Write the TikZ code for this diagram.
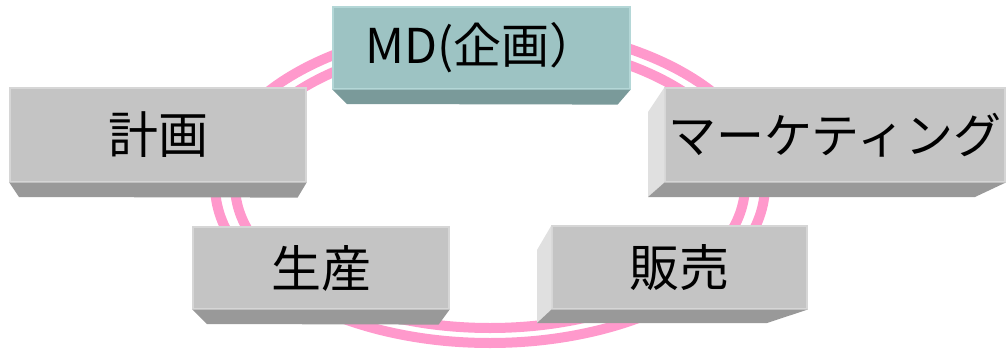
\documentclass[tikz,border=0pt]{standalone}
\usepackage{fontspec}
\newfontfamily\jpfont{Noto Sans CJK JP}
\definecolor{ringpink}{RGB}{255,153,204}
\definecolor{faceg}{RGB}{196,196,196}
\definecolor{bottomg}{RGB}{153,153,153}
\definecolor{sideg}{RGB}{224,224,224}
\definecolor{edgeg}{RGB}{214,214,214}
\definecolor{facet}{RGB}{157,195,195}
\definecolor{bottomt}{RGB}{122,154,154}
\definecolor{edget}{RGB}{180,215,215}
\tikzset{
  ring/.style={draw=ringpink, line width=10pt},
  face/.style={rectangle, fill=faceg, draw=edgeg, line width=1.2pt, inner sep=0pt,
    font=\jpfont\fontsize{50}{50}\selectfont, text=black},
  mdface/.style={face, fill=facet, draw=edget, font=\jpfont\fontsize{48}{48}\selectfont},
  bottomface/.style={fill=bottomg},
  mdbottom/.style={fill=bottomt},
  sideface/.style={fill=sideg},
}
\begin{document}
\begin{tikzpicture}[x=1pt,y=-1pt]
\useasboundingbox (0,0) rectangle (1007,356);
% ring
\draw[ring] (490,185) ellipse [x radius=275pt, y radius=158pt];
\draw[ring] (490,185) ellipse [x radius=255pt, y radius=143pt];
% MD
\node[mdface, minimum width=297pt, minimum height=82pt] (md) at (481.5,48) {MD(企画）};
\fill[mdbottom] (md.south west) -- (md.south east) -- ++(-13,15) -- (347,104) -- cycle;
% 計画
\node[face, minimum width=296pt, minimum height=94pt] (keikaku) at (158,135) {計画};
\fill[bottomface] (keikaku.south west) -- (keikaku.south east) -- ++(-9,15) -- (19,197) -- cycle;
% マーケティング
\node[face, minimum width=340pt, minimum height=94pt, font=\jpfont\fontsize{48}{48}\selectfont] (mkt) at (835,135) {マーケティング};
\fill[sideface] (mkt.north west) -- (648,112) -- (648,197) -- (mkt.south west) -- cycle;
\fill[bottomface] (mkt.south west) -- (mkt.south east) -- (975,197) -- (648,197) -- cycle;
% 生産
\node[face, minimum width=256pt, minimum height=82pt] (seisan) at (321,268) {生産};
\fill[bottomface] (seisan.south west) -- (seisan.south east) -- ++(-11,15) -- (207,324) -- cycle;
% 販売
\node[face, minimum width=255pt, minimum height=83pt] (hanbai) at (679.5,267.5) {販売};
\fill[sideface] (hanbai.north west) -- (537,250) -- (537,323) -- (hanbai.south west) -- cycle;
\fill[bottomface] (hanbai.south west) -- (hanbai.south east) -- (767,323) -- (537,323) -- cycle;
\end{tikzpicture}
\end{document}
